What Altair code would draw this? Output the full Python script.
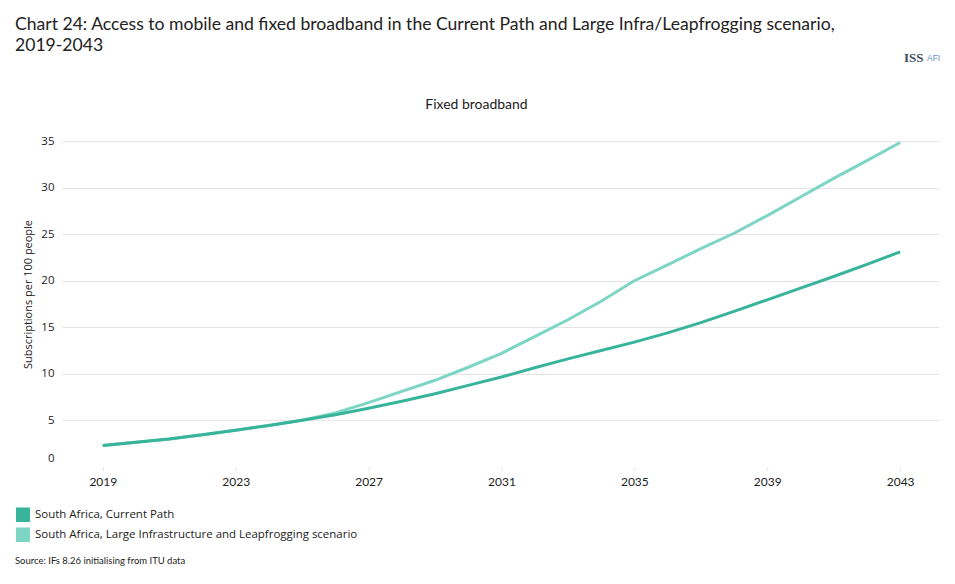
import altair as alt
import pandas as pd

years = list(range(2019, 2044))
current_path = [2.28, 2.65, 3.0, 3.45, 3.93, 4.45, 5.0, 5.6, 6.3, 7.05, 7.85, 8.75, 9.65,
                10.65, 11.6, 12.5, 13.4, 14.4, 15.5, 16.7, 17.95, 19.2, 20.45, 21.75, 23.1]
large_infra = [2.28, 2.65, 3.0, 3.45, 3.93, 4.45, 5.0, 5.8, 6.9, 8.1, 9.3, 10.7, 12.2,
               14.0, 15.8, 17.8, 20.0, 21.7, 23.45, 25.1, 27.0, 29.0, 31.0, 32.9, 34.85]
series_names = ["South Africa, Current Path",
                "South Africa, Large Infrastructure and Leapfrogging scenario"]
series_colors = ["#38b49c", "#7dd6c5"]
x_ticks = [2019, 2023, 2027, 2031, 2035, 2039, 2043]
y_ticks = [0, 5, 10, 15, 20, 25, 30, 35]

df_cp = pd.DataFrame({"year": years, "value": current_path, "series": series_names[0]})
df_li = pd.DataFrame({"year": years, "value": large_infra, "series": series_names[1]})

FONT = "Lato"

# solid square legend swatch drawn as tightly packed horizontal strokes (unit coords)
swatch_path = "".join("M-1,%.3fH1" % (-0.9 + 0.15 * i) for i in range(13))

x_enc = alt.X("year:Q",
              scale=alt.Scale(domain=[2017.77, 2044.17], nice=False, zero=False),
              axis=alt.Axis(values=x_ticks, format="d", title=None, grid=False,
                            domain=False, ticks=True, tickSize=4, tickColor="#e6e6e6",
                            labelPadding=6, labelFont=FONT, labelFontSize=12,
                            labelColor="#222222"))
y_enc = alt.Y("value:Q",
              scale=alt.Scale(domain=[0, 35], nice=False),
              axis=alt.Axis(values=y_ticks, title="Subscriptions per 100 people",
                            titleFont="Open Sans", titleFontSize=11, titleFontWeight="normal",
                            titleColor="#222222", titleAngle=-90, titleX=-33, titleY=153,
                            titleAlign="center", titleBaseline="middle",
                            domain=False, ticks=False, labelPadding=8,
                            labelFont="Open Sans", labelFontSize=11.5, labelColor="#222222",
                            labelOffset=alt.condition("datum.value == 0", alt.value(-8), alt.value(0)),
                            grid=True,
                            gridColor=alt.condition("datum.value == 0", alt.value("transparent"), alt.value("#e3e3e3")),
                            gridWidth=1))
color_enc = alt.Color("series:N",
                      scale=alt.Scale(domain=series_names, range=series_colors),
                      legend=alt.Legend(title=None, orient="none", legendX=-47, legendY=366,
                                        direction="vertical",
                                        symbolType=swatch_path, symbolSize=196,
                                        symbolStrokeWidth=2, symbolOpacity=1,
                                        labelFont="Open Sans", labelFontSize=11.5,
                                        labelColor="#222222", rowPadding=-2,
                                        labelLimit=500))

line_li = alt.Chart(df_li).mark_line(strokeWidth=3).encode(x=x_enc, y=y_enc, color=color_enc)
line_cp = alt.Chart(df_cp).mark_line(strokeWidth=3).encode(x=x_enc, y=y_enc, color=color_enc)

one = pd.DataFrame({"t": [0]})

def label(text, x, y, size, font=FONT, color="#222222", align="left", weight="normal"):
    return alt.Chart(one).mark_text(text=text, align=align, baseline="middle",
                                    font=font, fontSize=size, color=color,
                                    fontWeight=weight).encode(x=alt.value(x), y=alt.value(y))

title1 = label("Chart 24: Access to mobile and fixed broadband in the Current Path and Large Infra/Leapfrogging scenario,",
               -47, -116, 17.6)
title2 = label("2019-2043", -47, -95, 17.6)
subtitle = label("Fixed broadband", 415, -36, 14, align="center")
source = label("Source: IFs 8.26 initialising from ITU data", -47, 420, 9.5)
logo1 = label("ISS", 843, -83, 13, font="Liberation Sans Narrow", color="#3d4a5c", weight="bold")
logo2 = label("AFI", 866, -83, 8.5, font="Liberation Sans", color="#5b8fc9")

chart = alt.layer(line_li, line_cp, title1, title2, subtitle, source, logo1, logo2).properties(
    width=878, height=326,
    autosize=alt.AutoSizeParams(type="none"),
    padding={"left": 54, "top": 133, "right": 8, "bottom": 100},
).configure_view(stroke=None)

chart.save("out.html", embed_options={"renderer": "svg", "actions": False})
